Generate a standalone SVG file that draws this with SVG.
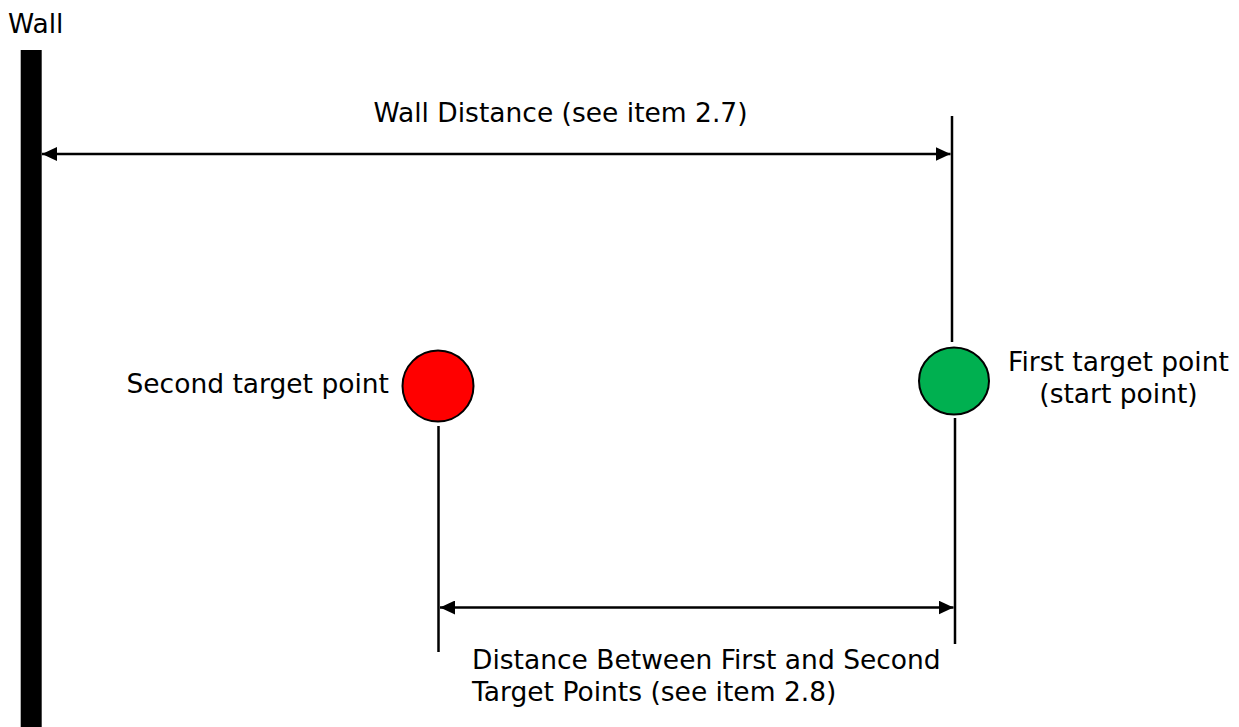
<svg xmlns="http://www.w3.org/2000/svg" width="1239" height="727" viewBox="0 0 1239 727">
<style>
text{font-family:"DejaVu Sans",Verdana,sans-serif;font-size:26.5px;fill:#000}
.ln{stroke:#000;stroke-width:2.5;fill:none}
.pt{stroke:#000;stroke-width:2}
</style>
<defs>
<marker id="ah" viewBox="0 0 15 14" refX="15" refY="7" markerWidth="15" markerHeight="14" orient="auto-start-reverse" markerUnits="userSpaceOnUse">
<path d="M0,0 L15,7 L0,14 z" fill="#000"/>
</marker>
</defs>
<rect width="1239" height="727" fill="#fff"/>
<g id="wall">
<rect x="20.7" y="50" width="21" height="677" fill="#000"/>
<text x="8" y="33">Wall</text>
</g>
<g id="second-target">
<circle cx="438" cy="386" r="35.5" fill="#ff0000" class="pt"/>
<text x="389" y="393" text-anchor="end">Second target point</text>
</g>
<g id="first-target">
<ellipse cx="954" cy="381" rx="35" ry="33.5" fill="#00b050" class="pt"/>
<text x="1118.5" y="371" text-anchor="middle">First target point</text>
<text x="1118.5" y="403" text-anchor="middle">(start point)</text>
</g>
<g id="connectors">
<line class="ln" x1="952" y1="116" x2="952" y2="342"/>
<line class="ln" x1="955" y1="418" x2="955" y2="644"/>
<line class="ln" x1="438.5" y1="426" x2="438.5" y2="652"/>
<line class="ln" x1="42" y1="154" x2="950.5" y2="154" marker-start="url(#ah)" marker-end="url(#ah)"/>
<line class="ln" x1="440" y1="607.5" x2="953.5" y2="607.5" marker-start="url(#ah)" marker-end="url(#ah)"/>
<text x="560.5" y="122" text-anchor="middle">Wall Distance (see item 2.7)</text>
<text x="472" y="669">Distance Between First and Second</text>
<text x="472" y="701">Target Points (see item 2.8)</text>
</g>
</svg>
